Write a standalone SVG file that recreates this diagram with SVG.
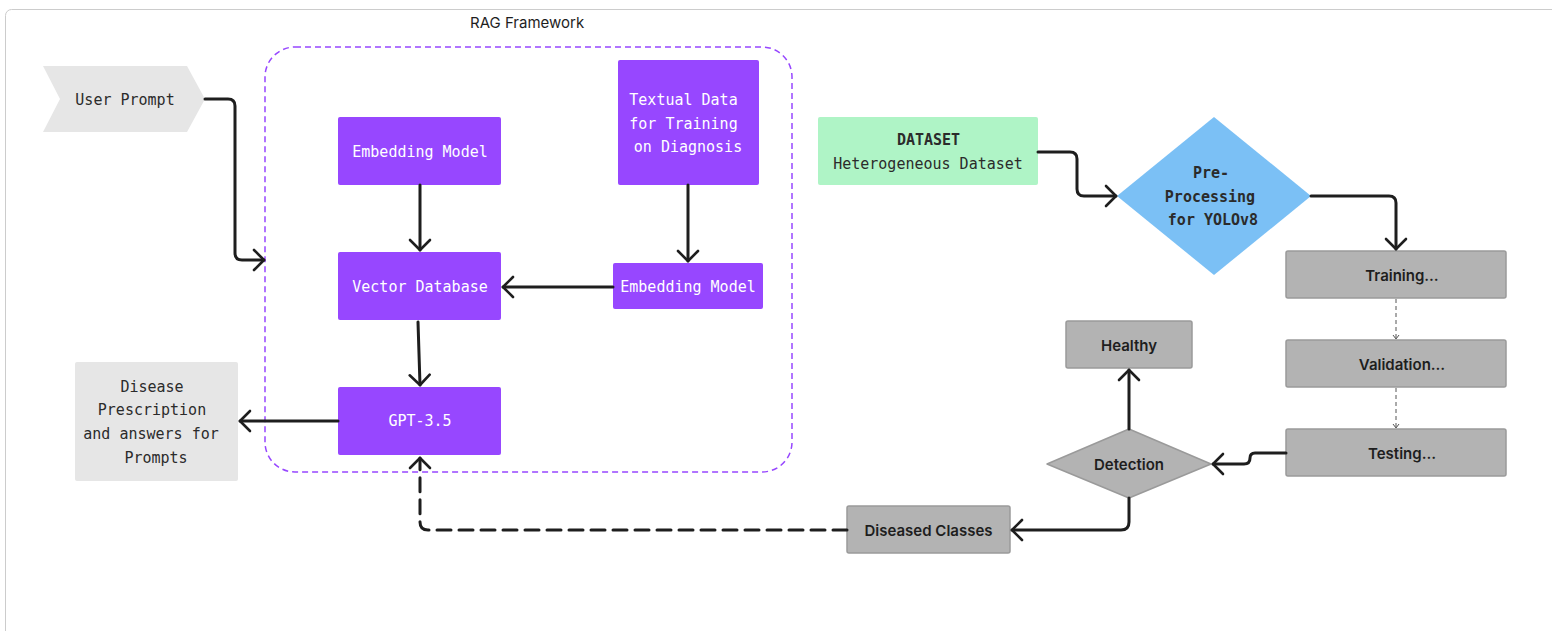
<svg xmlns="http://www.w3.org/2000/svg" width="1552" height="631" viewBox="0 0 1552 631">
<defs>
<marker id="arr" viewBox="0 0 14 24" refX="12" refY="12" markerWidth="14" markerHeight="24" markerUnits="userSpaceOnUse" orient="auto">
<path d="M2,2 L12,12 L2,22" fill="none" stroke="#1e1e1e" stroke-width="2.6" stroke-linecap="round" stroke-linejoin="round"/>
</marker>
<marker id="arrs" viewBox="0 0 6 8" refX="5" refY="4" markerWidth="6" markerHeight="8" markerUnits="userSpaceOnUse" orient="auto">
<path d="M1,1 L5,4 L1,7" fill="none" stroke="#555" stroke-width="1"/>
</marker>
</defs>
<style>
.mono{font-family:"DejaVu Sans Mono","Liberation Mono",monospace;font-size:15px;text-anchor:middle;dominant-baseline:central}
.w{fill:#ffffff}
.d{fill:#2b2b2b}
.sans{font-family:Inter,"Liberation Sans",sans-serif;font-size:15px;font-weight:600;fill:#1e1e1e;text-anchor:middle;dominant-baseline:central}
.purple{fill:#9747FF}
.gray{fill:#B3B3B3;stroke:#9A9A9A;stroke-width:1.5}
.conn{fill:none;stroke:#1e1e1e;stroke-width:3;stroke-linecap:round;stroke-linejoin:round}
</style>
<rect x="5.5" y="9.5" width="1570" height="650" rx="6" fill="#ffffff" stroke="#cccccc" stroke-width="1"/>
<g id="rag-frame">
<rect x="265" y="47" width="527" height="425" rx="30" fill="none" stroke="#9747FF" stroke-width="1.5" stroke-dasharray="6 4"/>
<text x="470" y="22" font-family="Inter,'Liberation Sans',sans-serif" font-size="15" fill="#1e1e1e" dominant-baseline="central">RAG Framework</text>
</g>
<g id="user-prompt">
<polygon points="43,66 187,66 205,99 187,132 43,132 60,99" fill="#E6E6E6"/>
<text class="mono d" x="125" y="100">User Prompt</text>
</g>
<g id="embedding-model-top">
<rect class="purple" x="338" y="117" width="163" height="68" rx="2"/>
<text class="mono w" x="420" y="152">Embedding Model</text>
</g>
<g id="textual-data">
<rect class="purple" x="618" y="60" width="141" height="125" rx="2"/>
<text class="mono w" x="683.5" y="100">Textual Data</text>
<text class="mono w" x="683.5" y="124">for Training</text>
<text class="mono w" x="688" y="147">on Diagnosis</text>
</g>
<g id="vector-database">
<rect class="purple" x="338" y="252" width="163" height="68" rx="2"/>
<text class="mono w" x="420" y="287">Vector Database</text>
</g>
<g id="embedding-model-right">
<rect class="purple" x="613" y="263" width="150" height="46" rx="2"/>
<text class="mono w" x="688" y="287">Embedding Model</text>
</g>
<g id="gpt">
<rect class="purple" x="338" y="387" width="163" height="68" rx="2"/>
<text class="mono w" x="420" y="421">GPT-3.5</text>
</g>
<g id="disease-prescription">
<rect x="75" y="362" width="163" height="119" rx="2" fill="#E6E6E6"/>
<text class="mono d" x="152" y="387">Disease</text>
<text class="mono d" x="152" y="410">Prescription</text>
<text class="mono d" x="151" y="434">and answers for</text>
<text class="mono d" x="156" y="458">Prompts</text>
</g>
<g id="dataset">
<rect x="818" y="117" width="220" height="68" rx="2" fill="#AFF4C6"/>
<text class="mono d" x="928.5" y="140" font-weight="bold">DATASET</text>
<text class="mono d" x="928" y="164">Heterogeneous Dataset</text>
</g>
<g id="pre-processing">
<polygon points="1214,117 1311,196 1214,275 1117,196" fill="#7BC0F5"/>
<text class="mono d" x="1211" y="173" font-weight="bold">Pre-</text>
<text class="mono d" x="1210" y="197" font-weight="bold">Processing</text>
<text class="mono d" x="1213" y="220" font-weight="bold">for YOLOv8</text>
</g>
<g id="training">
<rect class="gray" x="1286" y="251" width="220" height="47" rx="2"/>
<text class="sans" x="1402" y="275">Training…</text>
</g>
<g id="validation">
<rect class="gray" x="1286" y="340" width="220" height="47" rx="2"/>
<text class="sans" x="1402" y="364">Validation…</text>
</g>
<g id="testing">
<rect class="gray" x="1286" y="429" width="220" height="47" rx="2"/>
<text class="sans" x="1402" y="453">Testing…</text>
</g>
<g id="healthy">
<rect class="gray" x="1066" y="321" width="126" height="47" rx="2"/>
<text class="sans" x="1129" y="345">Healthy</text>
</g>
<g id="detection">
<polygon class="gray" points="1047,464 1129,429 1211,464 1129,498" stroke-linejoin="round"/>
<text class="sans" x="1129" y="464">Detection</text>
</g>
<g id="diseased-classes">
<rect class="gray" x="847" y="506" width="163" height="47" rx="2"/>
<text class="sans" x="928.5" y="530">Diseased Classes</text>
</g>
<g id="connectors">
<path class="conn" d="M205,99 H228 Q235,99 235,106 V253 Q235,260 242,260 H264" marker-end="url(#arr)"/>
<path class="conn" d="M420,185 V250" marker-end="url(#arr)"/>
<path class="conn" d="M688,185 V261" marker-end="url(#arr)"/>
<path class="conn" d="M613,287 H503" marker-end="url(#arr)"/>
<path class="conn" d="M418,322 L420,385" marker-end="url(#arr)"/>
<path class="conn" d="M338,421 H240" marker-end="url(#arr)"/>
<path class="conn" d="M847,530 H428 Q420,530 420,522 V458" stroke-dasharray="14 8" stroke-linecap="butt" marker-end="url(#arr)"/>
<path class="conn" d="M1038,152 H1070 Q1077,152 1077,159 V189 Q1077,196 1084,196 H1116" marker-end="url(#arr)"/>
<path class="conn" d="M1311,196 H1389 Q1396,196 1396,203 V249" marker-end="url(#arr)"/>
<path d="M1396,299 V339" fill="none" stroke="#555" stroke-width="1" stroke-dasharray="4 3" marker-end="url(#arrs)"/>
<path d="M1396,388 V428" fill="none" stroke="#555" stroke-width="1" stroke-dasharray="4 3" marker-end="url(#arrs)"/>
<path class="conn" d="M1286,453 H1255 Q1250,453 1250,458 Q1250,464 1244,464 H1213" marker-end="url(#arr)"/>
<path class="conn" d="M1129,429 V370" marker-end="url(#arr)"/>
<path class="conn" d="M1129,498 V522 Q1129,530 1121,530 H1012" marker-end="url(#arr)"/>
</g>
</svg>
